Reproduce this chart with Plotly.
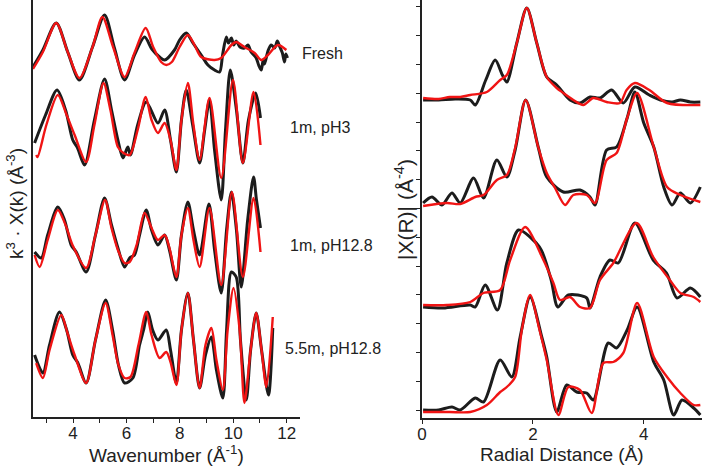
"""EXAFS k-space and R-space stacked fits, four samples (data black, fit red)."""
import plotly.graph_objects as go

SAMPLES = ["Fresh", "1m, pH3", "1m, pH12.8", "5.5m, pH12.8"]

# ---- k-space, k^3-weighted chi(k) (arb. units, relative to each trace baseline)
K_FRESH_DAT = [2.5, 2.87, 3.37, 3.8, 4.24, 4.73, 5.18, 5.55, 5.93, 6.3, 6.68, 6.95, 7.24, 7.43,
               7.8, 7.99, 8.24, 8.49, 8.8, 9.05, 9.3, 9.49, 9.6, 9.74, 9.82, 9.93, 10.02, 10.11,
               10.25, 10.42, 10.55, 10.67, 10.86, 10.95, 11.05, 11.12, 11.17, 11.3, 11.42, 11.55,
               11.65, 11.73, 11.84, 11.92, 11.97, 12.03]
CHI_FRESH_DAT = [0, 17, 44, 15, -13, 20, 52, 19, -13, 12, 30, 18, 10, 7,
                 17, 27, 34, 24, 12, 2, -3, -5, 12, 30, 24, 29, 22, 26,
                 20, 19, 22, 15, 9, 2, -3, 7, 3, 16, 22, 19,
                 26, 21, 14, 5, 13, 9]
K_FRESH_FIT = [2.5, 2.87, 3.37, 3.8, 4.24, 4.73, 5.1, 5.5, 5.93, 6.3, 6.72, 7.0, 7.3, 7.49, 7.7,
               7.99, 8.3, 8.55, 8.8, 9.3, 9.55, 9.93, 10.11, 10.42, 10.8, 11.05, 11.3, 11.67, 11.99]
CHI_FRESH_FIT = [-2, 15, 44, 15, -11, 20, 50, 20, -10, 14, 39, 20, 5, 2, 5,
                 20, 32, 22, 10, 7, 9, 22, 25, 20, 14, 7, 12, 22, 17]

K_PH3_DAT = [2.56, 2.97, 3.4, 3.72, 3.99, 4.17, 4.43, 4.8, 5.18, 5.44, 5.68, 5.87, 6.05, 6.15,
             6.42, 6.74, 7.18, 7.43, 7.65, 7.87, 8.06, 8.24, 8.48, 8.74, 8.93, 9.11, 9.3, 9.55,
             9.71, 9.89, 10.12, 10.36, 10.57, 10.84, 11.02]
CHI_PH3_DAT = [0, 28, 53, 33, 3, -5, -22, 23, 64, 33, 3, -15, -4, -12,
               18, 41, 20, 33, 3, -29, 23, 53, 18, -20, 13, 43, -7, -57,
               13, 73, 33, -20, 23, 50, 25]
K_PH3_FIT = [2.62, 2.67, 3.0, 3.43, 3.76, 4.06, 4.49, 4.8, 5.14, 5.4, 5.68, 5.89, 6.12, 6.42,
             6.72, 6.94, 7.18, 7.43, 7.65, 7.87, 8.06, 8.3, 8.51, 8.74, 9.11, 9.55, 9.99, 10.36,
             10.76, 11.02]
CHI_PH3_FIT = [-12, -14, 18, 48, 28, 8, -19, 18, 60, 33, -4, -10, -12, 13,
               46, 23, 10, 20, 3, -27, 23, 60, 18, -17, 45, -35, 63, -20,
               51, -2]

K_PH128_DAT = [2.56, 2.81, 3.05, 3.43, 3.68, 3.93, 4.12, 4.49, 4.84, 5.18, 5.44, 5.68, 5.93, 6.12,
               6.3, 6.49, 6.74, 6.94, 7.18, 7.43, 7.61, 7.87, 8.06, 8.3, 8.51, 8.74, 9.09, 9.3,
               9.55, 9.75, 9.93, 10.12, 10.3, 10.54, 10.76, 10.87, 11.02]
CHI_PH128_DAT = [3, -3, 20, 48, 35, 10, 3, -17, 20, 57, 30, 7, -12, -3,
                 0, 20, 45, 25, 10, 20, 5, -25, 20, 53, 25, 0, 51, 5,
                 -38, 25, 63, 25, -32, 35, 78, 55, 27]
K_PH128_FIT = [2.56, 2.75, 3.05, 3.43, 3.72, 3.98, 4.49, 4.84, 5.2, 5.44, 5.68, 5.93, 6.12, 6.38,
               6.68, 6.94, 7.18, 7.43, 7.61, 7.87, 8.06, 8.3, 8.51, 8.74, 9.11, 9.55, 9.95, 10.36,
               10.76, 11.02]
CHI_PH128_FIT = [0, -12, 15, 45, 30, 10, -13, 20, 55, 27, 5, -8, -7, 10,
                 42, 27, 15, 20, 7, -22, 20, 47, 15, -12, 47, -30, 63, -22,
                 57, 3]

K_55M_DAT = [2.56, 2.87, 3.12, 3.49, 3.76, 3.99, 4.18, 4.49, 4.84, 5.22, 5.48, 5.7, 5.93, 6.24,
             6.49, 6.64, 6.8, 6.98, 7.18, 7.49, 7.65, 7.87, 8.06, 8.3, 8.51, 8.74, 8.96, 9.18,
             9.37, 9.61, 9.75, 9.93, 10.11, 10.27, 10.49, 10.65, 10.86, 11.06, 11.32, 11.48]
CHI_55M_DAT = [0, -18, 10, 43, 25, 0, -8, -28, 15, 55, 25, -10, -28, -23,
               10, 25, 43, 25, 15, 25, 5, -28, 25, 62, 15, -33, 0, 18,
               -15, -43, 25, 83, 78, 15, -45, 5, 42, 5, -40, 27]
K_55M_FIT = [2.62, 2.87, 3.12, 3.56, 3.79, 4.06, 4.49, 4.84, 5.22, 5.48, 5.7, 5.93, 6.15, 6.45,
             6.74, 6.94, 7.24, 7.49, 7.65, 7.87, 8.06, 8.3, 8.51, 8.74, 8.96, 9.18, 9.37, 9.61,
             9.79, 10.01, 10.24, 10.42, 10.65, 10.86, 11.06, 11.24, 11.48]
CHI_55M_FIT = [-8, -23, 5, 40, 22, 0, -28, 15, 52, 20, -10, -23, -22, 10,
               43, 20, -3, 3, -7, -30, 25, 62, 15, -33, 10, 27, -5, -35,
               25, 67, 25, -48, 5, 42, 5, -32, 38]

# ---- R-space, |chi(R)| (arb. units, relative to each trace baseline)
R_FRESH_DAT = [0.02, 0.3, 0.6, 0.87, 0.96, 1.15, 1.32, 1.45, 1.53, 1.71, 1.89, 2.07, 2.25, 2.43,
               2.67, 2.85, 3.03, 3.21, 3.42, 3.63, 3.84, 4.1, 4.3, 4.51, 4.66, 4.84, 5.02]
MAG_FRESH_DAT = [0, 0, 1, 0, -5, 20, 40, 25, 18, 57, 92, 57, 23, 15,
                 0, -3, 3, 2, 10, -3, 13, 5, 0, -2, 0, -2, -2]
R_FRESH_FIT = [0.02, 0.3, 0.5, 0.69, 0.87, 1.17, 1.41, 1.53, 1.71, 1.89, 2.07, 2.25, 2.43, 2.55,
               2.73, 2.91, 3.09, 3.33, 3.57, 3.69, 3.84, 4.1, 4.42, 5.02]
MAG_FRESH_FIT = [2, 1, 3, 3, 5, 8, 20, 25, 57, 92, 57, 23, 12, 7,
                 0, -5, 2, -2, -3, 10, 17, 10, -3, -5]

R_PH3_DAT = [0.02, 0.18, 0.36, 0.54, 0.69, 0.93, 1.11, 1.35, 1.53, 1.68, 1.87, 2.1, 2.25, 2.55,
             2.85, 3.03, 3.12, 3.33, 3.51, 3.7, 3.84, 4.0, 4.18, 4.36, 4.51, 4.66, 4.84, 5.02]
MAG_PH3_DAT = [0, 6, -2, 10, 0, 25, 5, 43, 26, 53, 103, 55, 26, 11,
               13, 6, -2, 53, 56, 85, 111, 80, 56, 16, -2, 10, 0, 16]
R_PH3_FIT = [0.02, 0.45, 0.69, 0.96, 1.11, 1.35, 1.53, 1.68, 1.87, 2.1, 2.25, 2.4, 2.58, 2.73,
             2.97, 3.12, 3.33, 3.51, 3.7, 3.88, 4.18, 4.42, 4.66, 5.02]
MAG_PH3_FIT = [-3, 0, -1, 6, 8, 23, 28, 55, 103, 55, 30, 15, -2, 8,
               8, 0, 43, 50, 85, 110, 56, 16, 8, 1]

R_PH128_DAT = [0.02, 0.38, 0.87, 0.96, 1.14, 1.36, 1.53, 1.74, 1.95, 2.15, 2.33, 2.45, 2.64, 2.97,
               3.03, 3.21, 3.39, 3.54, 3.84, 4.17, 4.41, 4.6, 4.84, 5.02]
MAG_PH128_DAT = [0, -1, 2, 0, 22, -3, 44, 77, 70, 57, 27, 0, 12, 9,
                 -1, 30, 47, 44, 84, 47, 34, 9, 19, 10]
R_PH128_FIT = [0.02, 0.45, 0.87, 1.11, 1.41, 1.59, 1.86, 2.19, 2.37, 2.49, 2.67, 2.85, 3.03, 3.21,
               3.45, 3.87, 4.17, 4.47, 4.66, 4.9, 5.02]
MAG_PH128_FIT = [2, 2, 5, 14, 17, 47, 80, 47, 24, 7, 10, 0, -1, 27,
                 44, 84, 50, 27, 14, 10, 5]

R_55M_DAT = [0.02, 0.3, 0.54, 0.69, 0.96, 1.11, 1.41, 1.62, 1.77, 1.95, 2.16, 2.25, 2.43, 2.61,
             2.79, 2.97, 3.09, 3.36, 3.51, 3.7, 3.88, 4.18, 4.36, 4.54, 4.69, 4.9, 5.02]
MAG_55M_DAT = [0, 0, 3, 0, 12, 8, 50, 33, 73, 113, 73, 53, -2, 25,
               18, 17, 10, 67, 62, 80, 103, 48, 30, -5, 10, 2, -5]
R_55M_FIT = [0.02, 0.5, 0.87, 1.17, 1.41, 1.53, 1.68, 1.8, 1.95, 2.12, 2.25, 2.46, 2.64, 2.85,
             3.06, 3.27, 3.45, 3.63, 3.88, 4.18, 4.42, 4.66, 4.9, 5.02]
MAG_55M_FIT = [-2, -2, -2, 5, 18, 23, 33, 80, 115, 80, 50, -5, 23, 20,
               -3, 47, 48, 57, 107, 53, 33, 17, 5, 5]

K_OFFSETS = [350, 274, 162, 62]
R_OFFSETS = [318, 215, 111, 8]

K_SERIES = [
    (K_FRESH_DAT, CHI_FRESH_DAT, K_FRESH_FIT, CHI_FRESH_FIT),
    (K_PH3_DAT, CHI_PH3_DAT, K_PH3_FIT, CHI_PH3_FIT),
    (K_PH128_DAT, CHI_PH128_DAT, K_PH128_FIT, CHI_PH128_FIT),
    (K_55M_DAT, CHI_55M_DAT, K_55M_FIT, CHI_55M_FIT),
]
R_SERIES = [
    (R_FRESH_DAT, MAG_FRESH_DAT, R_FRESH_FIT, MAG_FRESH_FIT),
    (R_PH3_DAT, MAG_PH3_DAT, R_PH3_FIT, MAG_PH3_FIT),
    (R_PH128_DAT, MAG_PH128_DAT, R_PH128_FIT, MAG_PH128_FIT),
    (R_55M_DAT, MAG_55M_DAT, R_55M_FIT, MAG_55M_FIT),
]

DATA_COLOR = "#1c1c1c"
FIT_COLOR = "#f01414"
FONT = "Liberation Sans, Arial, sans-serif"

fig = go.Figure()


def add_pair(xd, yd, xf, yf, off, xa, ya, name):
    fig.add_trace(go.Scatter(
        x=xd, y=[v + off for v in yd], mode="lines", line_shape="spline",
        line=dict(color=DATA_COLOR, width=3, smoothing=0.8),
        name=name + " data", xaxis=xa, yaxis=ya, showlegend=False,
    ))
    fig.add_trace(go.Scatter(
        x=xf, y=[v + off for v in yf], mode="lines", line_shape="spline",
        line=dict(color=FIT_COLOR, width=2.4, smoothing=0.8),
        name=name + " fit", xaxis=xa, yaxis=ya, showlegend=False,
    ))


for name, (xd, yd, xf, yf), off in zip(SAMPLES, K_SERIES, K_OFFSETS):
    add_pair(xd, yd, xf, yf, off, "x", "y", name)
for name, (xd, yd, xf, yf), off in zip(SAMPLES, R_SERIES, R_OFFSETS):
    add_pair(xd, yd, xf, yf, off, "x2", "y2", name)

axis_common = dict(
    showline=True, linecolor="#222", linewidth=1.5, showgrid=False, zeroline=False,
    tickfont=dict(family=FONT, size=17, color="#222"), automargin=False,
)

fig.update_layout(
    width=706, height=471,
    margin=dict(l=0, r=0, t=0, b=0),
    plot_bgcolor="white", paper_bgcolor="white",
    font=dict(family=FONT, color="#222"),
    xaxis=dict(
        domain=[33 / 706, 300 / 706], range=[2.5, 12.5], anchor="y",
        tick0=4, dtick=2, ticks="outside", ticklen=4, tickcolor="#222",
        ticklabelstandoff=-4,
        minor=dict(dtick=1, ticks="outside", ticklen=4, tickcolor="#222"),
        **axis_common,
    ),
    yaxis=dict(
        domain=[1 - 417 / 471, 1], range=[0, 417], anchor="x",
        showticklabels=False, ticks="", **axis_common,
    ),
    xaxis2=dict(
        domain=[422 / 706, 702 / 706], range=[0, 5.05], anchor="y2",
        tick0=0, dtick=2, ticks="outside", ticklen=4, tickcolor="#222",
        ticklabelstandoff=-4, **axis_common,
    ),
    yaxis2=dict(
        domain=[1 - 418 / 471, 1], range=[0, 418], anchor="x2",
        showticklabels=False, ticks="outside", ticklen=4, tickcolor="#222",
        tick0=8, dtick=28.8, **axis_common,
    ),
)

label_font = dict(family=FONT, size=16, color="#222")
for text, x, y in zip(SAMPLES, [12.49, 12.04, 12.04, 11.85], [364, 290, 172, 69]):
    fig.add_annotation(text=text, x=x, y=y, xref="x", yref="y", xanchor="left",
                       yanchor="middle", showarrow=False, font=label_font)

fig.add_annotation(text="Wavenumber (Å<sup>-1</sup>)", x=(33 + 300) / 2 / 706, y=1 - 454 / 471,
                   xref="paper", yref="paper", showarrow=False,
                   font=dict(family=FONT, size=19, color="#222"),
                   xanchor="center", yanchor="middle")
fig.add_annotation(text="Radial Distance (Å)", x=(422 + 702) / 2 / 706, y=1 - 454 / 471,
                   xref="paper", yref="paper", showarrow=False,
                   font=dict(family=FONT, size=19, color="#222"),
                   xanchor="center", yanchor="middle")
fig.add_annotation(text="k<sup>3</sup> · X(k) (Å<sup>-3</sup>)", x=15 / 706, y=1 - 204 / 471,
                   xref="paper", yref="paper", showarrow=False,
                   font=dict(family=FONT, size=19, color="#222"),
                   textangle=-90, xanchor="center", yanchor="middle")
fig.add_annotation(text="|X(R)| (Å<sup>-4</sup>)", x=404 / 706, y=1 - 210 / 471,
                   xref="paper", yref="paper", showarrow=False,
                   font=dict(family=FONT, size=21, color="#222"),
                   textangle=-90, xanchor="center", yanchor="middle")

# page body has a default 8px margin; drop it so the figure sits at the window corner
fig.write_html("out.html", config={"displayModeBar": False},
               post_script="document.body.style.margin = '0px';")
